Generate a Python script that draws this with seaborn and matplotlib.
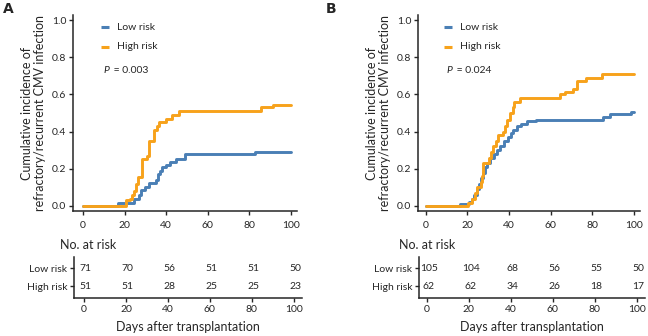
import numpy as np
import pandas as pd
import matplotlib
matplotlib.use("Agg")
import matplotlib.pyplot as plt
import seaborn as sns

# ---------------- data ----------------
groups = ["Low risk", "High risk"]
colors = {"Low risk": "#4a7fb5", "High risk": "#f7a21b"}

# Panel A
a_low_t = [0, 17, 24.4, 27, 28, 30, 32, 35, 36, 37, 38, 40, 42, 45, 49, 83, 100]
a_low_v = [0, 0.014, 0.04, 0.059, 0.085, 0.10, 0.125, 0.14, 0.17, 0.19, 0.21, 0.22, 0.235, 0.25, 0.28, 0.29, 0.29]
a_high_t = [0, 20.5, 22.5, 23.5, 24.4, 25.4, 26.3, 28.2, 31, 32, 34.3, 35.6, 36.6, 39.8, 42.7, 46.2, 85.7, 91.5, 100]
a_high_v = [0, 0.03, 0.04, 0.06, 0.08, 0.12, 0.155, 0.255, 0.27, 0.35, 0.41, 0.43, 0.45, 0.47, 0.49, 0.51, 0.53, 0.545, 0.545]

# Panel B
b_low_t = [0, 16.3, 20.8, 22.1, 23, 24.4, 25.6, 26.6, 27.6, 28.5, 29.5, 30.8, 32.7, 34, 35.6, 37.5, 39.7, 40.7,
           42, 43.6, 45.8, 48.7, 53.2, 85.3, 88.5, 98.9, 100]
b_low_v = [0, 0.01, 0.02, 0.04, 0.06, 0.09, 0.12, 0.15, 0.18, 0.21, 0.23, 0.26, 0.28, 0.30, 0.32, 0.35, 0.37, 0.39,
           0.41, 0.43, 0.44, 0.455, 0.465, 0.48, 0.495, 0.505, 0.505]
b_high_t = [0, 20.2, 22.1, 23.4, 24.4, 26.3, 27.2, 27.6, 30.4, 31.4, 32.4, 33.7, 34.9, 36.9, 38.1, 39.1, 40.4, 41.7,
            42.6, 45.5, 64.4, 67, 70.8, 72.8, 77.2, 84.9, 100]
b_high_v = [0, 0.015, 0.035, 0.07, 0.10, 0.13, 0.16, 0.23, 0.26, 0.29, 0.32, 0.35, 0.38, 0.40, 0.43, 0.46, 0.50, 0.53,
            0.56, 0.58, 0.60, 0.615, 0.63, 0.67, 0.69, 0.71, 0.71]

risk_times = [0, 20, 40, 60, 80, 100]
a_risk_low = [71, 70, 56, 51, 51, 50]
a_risk_high = [51, 51, 28, 25, 25, 23]
b_risk_low = [105, 104, 68, 56, 55, 50]
b_risk_high = [62, 62, 34, 26, 18, 17]

p_texts = ["0.003", "0.024"]
panel_labels = ["A", "B"]
y_ticks = [0.0, 0.2, 0.4, 0.6, 0.8, 1.0]

# ---------------- style ----------------
sns.set_style("ticks")
plt.rcParams["font.family"] = ["Lato", "DejaVu Sans"]
plt.rcParams["axes.linewidth"] = 1.1
plt.rcParams["xtick.major.width"] = 1.0
plt.rcParams["ytick.major.width"] = 1.0
plt.rcParams["xtick.major.size"] = 3
plt.rcParams["ytick.major.size"] = 3

fig = plt.figure(figsize=(6.48, 3.36), dpi=100)

def make_df(lt, lv, ht, hv):
    d1 = pd.DataFrame({"t": lt, "v": lv, "g": "Low risk"})
    d2 = pd.DataFrame({"t": ht, "v": hv, "g": "High risk"})
    return pd.concat([d1, d2], ignore_index=True)

panels = [
    dict(df=make_df(a_low_t, a_low_v, a_high_t, a_high_v), low=a_risk_low, high=a_risk_high,
         left=73 / 648, width=224 / 648, xmin=-4.8, p=p_texts[0], lab=panel_labels[0], labx=3 / 648,
         nx=60 / 648),
    dict(df=make_df(b_low_t, b_low_v, b_high_t, b_high_v), low=b_risk_low, high=b_risk_high,
         left=418 / 648, width=222 / 648, xmin=-3.8, p=p_texts[1], lab=panel_labels[1], labx=326 / 648,
         nx=399 / 648),
]

tick_fs = 7.5
for pnl in panels:
    ax = fig.add_axes([pnl["left"], 1 - 211 / 336, pnl["width"], 196 / 336])
    sns.lineplot(data=pnl["df"], x="t", y="v", hue="g", hue_order=groups, palette=colors,
                 drawstyle="steps-post", linewidth=2.1, ax=ax, legend=False, estimator=None, sort=True)
    ax.set_xlim(pnl["xmin"], 103)
    ax.set_ylim(-0.027, 1.027)
    ax.set_yticks(y_ticks)
    ax.set_yticklabels([f"{v:.1f}" for v in y_ticks], fontsize=tick_fs)
    ax.set_xticks(risk_times)
    ax.set_xticklabels([str(t) for t in risk_times], fontsize=tick_fs)
    ax.tick_params(axis="y", pad=2)
    ax.tick_params(axis="x", pad=4)
    ax.set_xlabel("")
    ax.set_ylabel("Cumulative incidence of\nrefractory/recurrent CMV infection", fontsize=9, labelpad=4,
                  linespacing=1.15)
    sns.despine(ax=ax)
    # legend
    for i, g in enumerate(groups):
        yy = 0.962 - i * 0.107
        ax.plot([8.5, 12.5], [yy, yy], color=colors[g], lw=2.2, solid_capstyle="butt")
        ax.text(16.2, yy, g, fontsize=7.5, va="center", ha="left")
    ax.text(10, 0.731, "P", fontstyle="italic", fontsize=7.5, va="center", ha="left")
    ax.text(13.5, 0.731, " = " + pnl["p"], fontsize=7.5, va="center", ha="left")
    fig.text(pnl["labx"], 1 - 9 / 336, pnl["lab"], fontsize=10, fontweight="bold", va="center", ha="left",
             family=["DejaVu Sans"])

    # risk table
    tx = fig.add_axes([pnl["left"] + 1 / 648, 1 - 298 / 336, pnl["width"] + 4 / 648, 41 / 336])
    tx.set_xlim(pnl["xmin"], 104)
    tx.set_ylim(0.34, 2.61)
    for t, lo, hi in zip(risk_times, pnl["low"], pnl["high"]):
        tx.text(t + 0.8, 2, str(lo), ha="center", va="center", fontsize=7.5)
        tx.text(t + 0.8, 1, str(hi), ha="center", va="center", fontsize=7.5)
    tx.set_yticks([2, 1])
    tx.set_yticklabels(groups, fontsize=7.5)
    tx.set_xticks(risk_times)
    tx.set_xticklabels([str(t) for t in risk_times], fontsize=tick_fs)
    tx.tick_params(pad=2)
    tx.set_xlabel("Days after transplantation", fontsize=9, labelpad=5)
    sns.despine(ax=tx)
    fig.text(pnl["nx"], 1 - 245 / 336, "No. at risk", fontsize=9, ha="left", va="center")

fig.savefig("out.png", dpi=100)
